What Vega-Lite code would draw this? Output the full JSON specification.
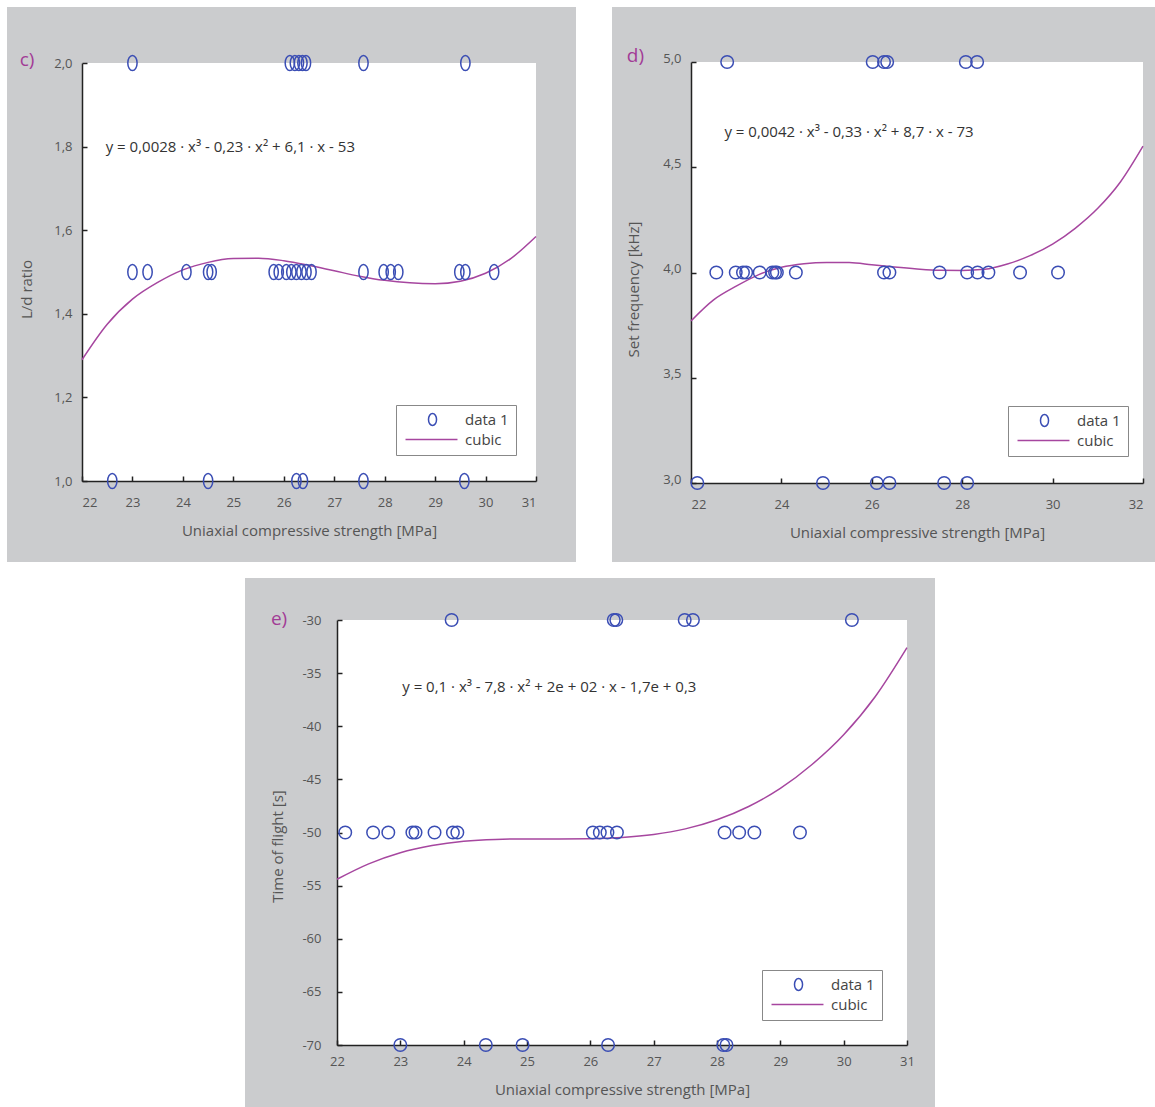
{
  "$schema": "https://vega.github.io/schema/vega-lite/v6.json",
  "background": "#cbccce",
  "padding": 0,
  "spacing": 0,
  "config": {
    "view": {"stroke": null},
    "axis": {"domainColor": "#222", "domainWidth": 1.5, "tickColor": "#222", "tickWidth": 1.5, "tickSize": -5, "grid": false, "labelFont": "Open Sans", "labelFontSize": 13, "labelColor": "#555", "titleFont": "Open Sans", "titleFontSize": 15, "titleFontWeight": "normal", "titleColor": "#555"},
    "title": {"anchor": "start", "frame": "bounds", "color": "#a23c96", "fontSize": 19, "fontWeight": "normal", "font": "Open Sans"},
    "legend": {"title": null, "orient": "none", "symbolSize": 144, "symbolStrokeWidth": 1.5, "labelFont": "Open Sans", "labelFontSize": 15, "labelColor": "#444", "labelOffset": 47, "rowPadding": 3, "padding": 7, "strokeColor": "#888", "fillColor": "white"}
  },
  "datasets": {
    "c_pts": [
      {"x": 23.0, "y": 2.0, "series": "data 1"}, {"x": 26.12, "y": 2.0, "series": "data 1"}, {"x": 26.22, "y": 2.0, "series": "data 1"}, {"x": 26.3, "y": 2.0, "series": "data 1"}, {"x": 26.37, "y": 2.0, "series": "data 1"}, {"x": 26.44, "y": 2.0, "series": "data 1"}, {"x": 27.58, "y": 2.0, "series": "data 1"}, {"x": 29.6, "y": 2.0, "series": "data 1"},
      {"x": 23.0, "y": 1.5, "series": "data 1"}, {"x": 23.3, "y": 1.5, "series": "data 1"}, {"x": 24.07, "y": 1.5, "series": "data 1"}, {"x": 24.5, "y": 1.5, "series": "data 1"}, {"x": 24.57, "y": 1.5, "series": "data 1"}, {"x": 25.8, "y": 1.5, "series": "data 1"}, {"x": 25.9, "y": 1.5, "series": "data 1"}, {"x": 26.05, "y": 1.5, "series": "data 1"}, {"x": 26.15, "y": 1.5, "series": "data 1"}, {"x": 26.25, "y": 1.5, "series": "data 1"}, {"x": 26.35, "y": 1.5, "series": "data 1"}, {"x": 26.45, "y": 1.5, "series": "data 1"}, {"x": 26.55, "y": 1.5, "series": "data 1"}, {"x": 27.58, "y": 1.5, "series": "data 1"}, {"x": 27.98, "y": 1.5, "series": "data 1"}, {"x": 28.12, "y": 1.5, "series": "data 1"}, {"x": 28.27, "y": 1.5, "series": "data 1"}, {"x": 29.48, "y": 1.5, "series": "data 1"}, {"x": 29.6, "y": 1.5, "series": "data 1"}, {"x": 30.17, "y": 1.5, "series": "data 1"},
      {"x": 22.6, "y": 1.0, "series": "data 1"}, {"x": 24.5, "y": 1.0, "series": "data 1"}, {"x": 26.25, "y": 1.0, "series": "data 1"}, {"x": 26.38, "y": 1.0, "series": "data 1"}, {"x": 27.58, "y": 1.0, "series": "data 1"}, {"x": 29.58, "y": 1.0, "series": "data 1"}
    ],
    "c_fit": [
      {"x": 22.0, "y": 1.29, "series": "cubic"}, {"x": 22.5, "y": 1.375, "series": "cubic"}, {"x": 23.0, "y": 1.435, "series": "cubic"}, {"x": 23.5, "y": 1.475, "series": "cubic"}, {"x": 24.0, "y": 1.505, "series": "cubic"}, {"x": 24.5, "y": 1.523, "series": "cubic"}, {"x": 25.0, "y": 1.532, "series": "cubic"}, {"x": 25.5, "y": 1.533, "series": "cubic"}, {"x": 26.0, "y": 1.527, "series": "cubic"}, {"x": 26.5, "y": 1.516, "series": "cubic"}, {"x": 27.0, "y": 1.503, "series": "cubic"}, {"x": 27.5, "y": 1.49, "series": "cubic"}, {"x": 28.0, "y": 1.48, "series": "cubic"}, {"x": 28.5, "y": 1.474, "series": "cubic"}, {"x": 29.0, "y": 1.472, "series": "cubic"}, {"x": 29.5, "y": 1.478, "series": "cubic"}, {"x": 30.0, "y": 1.497, "series": "cubic"}, {"x": 30.5, "y": 1.532, "series": "cubic"}, {"x": 31.0, "y": 1.585, "series": "cubic"}
    ],
    "d_pts": [
      {"x": 22.8, "y": 5.0, "series": "data 1"}, {"x": 26.02, "y": 5.0, "series": "data 1"}, {"x": 26.27, "y": 5.0, "series": "data 1"}, {"x": 26.34, "y": 5.0, "series": "data 1"}, {"x": 28.08, "y": 5.0, "series": "data 1"}, {"x": 28.33, "y": 5.0, "series": "data 1"},
      {"x": 22.56, "y": 4.0, "series": "data 1"}, {"x": 22.99, "y": 4.0, "series": "data 1"}, {"x": 23.15, "y": 4.0, "series": "data 1"}, {"x": 23.22, "y": 4.0, "series": "data 1"}, {"x": 23.52, "y": 4.0, "series": "data 1"}, {"x": 23.8, "y": 4.0, "series": "data 1"}, {"x": 23.86, "y": 4.0, "series": "data 1"}, {"x": 23.9, "y": 4.0, "series": "data 1"}, {"x": 24.32, "y": 4.0, "series": "data 1"}, {"x": 26.27, "y": 4.0, "series": "data 1"}, {"x": 26.39, "y": 4.0, "series": "data 1"}, {"x": 27.5, "y": 4.0, "series": "data 1"}, {"x": 28.11, "y": 4.0, "series": "data 1"}, {"x": 28.34, "y": 4.0, "series": "data 1"}, {"x": 28.58, "y": 4.0, "series": "data 1"}, {"x": 29.28, "y": 4.0, "series": "data 1"}, {"x": 30.12, "y": 4.0, "series": "data 1"},
      {"x": 22.14, "y": 3.0, "series": "data 1"}, {"x": 24.92, "y": 3.0, "series": "data 1"}, {"x": 26.11, "y": 3.0, "series": "data 1"}, {"x": 26.39, "y": 3.0, "series": "data 1"}, {"x": 27.6, "y": 3.0, "series": "data 1"}, {"x": 28.11, "y": 3.0, "series": "data 1"}
    ],
    "d_fit": [
      {"x": 22.0, "y": 3.77, "series": "cubic"}, {"x": 22.5, "y": 3.87, "series": "cubic"}, {"x": 23.0, "y": 3.935, "series": "cubic"}, {"x": 23.5, "y": 3.99, "series": "cubic"}, {"x": 24.0, "y": 4.025, "series": "cubic"}, {"x": 24.5, "y": 4.042, "series": "cubic"}, {"x": 25.0, "y": 4.048, "series": "cubic"}, {"x": 25.5, "y": 4.047, "series": "cubic"}, {"x": 26.0, "y": 4.037, "series": "cubic"}, {"x": 26.5, "y": 4.026, "series": "cubic"}, {"x": 27.0, "y": 4.017, "series": "cubic"}, {"x": 27.5, "y": 4.011, "series": "cubic"}, {"x": 28.0, "y": 4.01, "series": "cubic"}, {"x": 28.5, "y": 4.015, "series": "cubic"}, {"x": 29.0, "y": 4.04, "series": "cubic"}, {"x": 29.5, "y": 4.08, "series": "cubic"}, {"x": 30.0, "y": 4.135, "series": "cubic"}, {"x": 30.5, "y": 4.21, "series": "cubic"}, {"x": 31.0, "y": 4.305, "series": "cubic"}, {"x": 31.5, "y": 4.43, "series": "cubic"}, {"x": 32.0, "y": 4.6, "series": "cubic"}
    ],
    "e_pts": [
      {"x": 23.81, "y": -30, "series": "data 1"}, {"x": 26.37, "y": -30, "series": "data 1"}, {"x": 26.41, "y": -30, "series": "data 1"}, {"x": 27.49, "y": -30, "series": "data 1"}, {"x": 27.62, "y": -30, "series": "data 1"}, {"x": 30.13, "y": -30, "series": "data 1"},
      {"x": 22.13, "y": -50, "series": "data 1"}, {"x": 22.57, "y": -50, "series": "data 1"}, {"x": 22.81, "y": -50, "series": "data 1"}, {"x": 23.19, "y": -50, "series": "data 1"}, {"x": 23.24, "y": -50, "series": "data 1"}, {"x": 23.54, "y": -50, "series": "data 1"}, {"x": 23.83, "y": -50, "series": "data 1"}, {"x": 23.9, "y": -50, "series": "data 1"}, {"x": 26.04, "y": -50, "series": "data 1"}, {"x": 26.15, "y": -50, "series": "data 1"}, {"x": 26.27, "y": -50, "series": "data 1"}, {"x": 26.42, "y": -50, "series": "data 1"}, {"x": 28.12, "y": -50, "series": "data 1"}, {"x": 28.35, "y": -50, "series": "data 1"}, {"x": 28.59, "y": -50, "series": "data 1"}, {"x": 29.31, "y": -50, "series": "data 1"},
      {"x": 23.0, "y": -70, "series": "data 1"}, {"x": 24.35, "y": -70, "series": "data 1"}, {"x": 24.93, "y": -70, "series": "data 1"}, {"x": 26.28, "y": -70, "series": "data 1"}, {"x": 28.1, "y": -70, "series": "data 1"}, {"x": 28.15, "y": -70, "series": "data 1"}
    ],
    "e_fit": [
      {"x": 22.0, "y": -54.4, "series": "cubic"}, {"x": 22.5, "y": -52.95, "series": "cubic"}, {"x": 23.0, "y": -51.9, "series": "cubic"}, {"x": 23.5, "y": -51.23, "series": "cubic"}, {"x": 24.0, "y": -50.83, "series": "cubic"}, {"x": 24.5, "y": -50.65, "series": "cubic"}, {"x": 25.0, "y": -50.6, "series": "cubic"}, {"x": 25.5, "y": -50.6, "series": "cubic"}, {"x": 26.0, "y": -50.58, "series": "cubic"}, {"x": 26.5, "y": -50.47, "series": "cubic"}, {"x": 27.0, "y": -50.19, "series": "cubic"}, {"x": 27.5, "y": -49.66, "series": "cubic"}, {"x": 28.0, "y": -48.8, "series": "cubic"}, {"x": 28.5, "y": -47.55, "series": "cubic"}, {"x": 29.0, "y": -45.85, "series": "cubic"}, {"x": 29.5, "y": -43.6, "series": "cubic"}, {"x": 30.0, "y": -40.8, "series": "cubic"}, {"x": 30.5, "y": -37.2, "series": "cubic"}, {"x": 31.0, "y": -32.6, "series": "cubic"}
    ],
    "c_eq": [{"x": 22.47, "y": 1.8, "label": "y = 0,0028 · x³ - 0,23 · x² + 6,1 · x - 53"}],
    "d_eq": [{"x": 22.74, "y": 4.667, "label": "y = 0,0042 · x³ - 0,33 · x² + 8,7 · x - 73"}],
    "e_eq": [{"x": 23.03, "y": -36.28, "label": "y = 0,1 · x³ - 7,8 · x² + 2e + 02 · x - 1,7e + 0,3"}]
  },
  "resolve": {"scale": {"color": "independent"}, "legend": {"color": "independent"}},
  "vconcat": [
    {"width": 1155, "height": 7, "data": {"values": [{}]}, "mark": {"type": "point", "opacity": 0}, "view": {"fill": "white", "stroke": null}},
    {
      "spacing": 0,
      "resolve": {"scale": {"color": "independent"}, "legend": {"color": "independent"}},
      "hconcat": [
        {"width": 7, "height": 555, "data": {"values": [{}]}, "mark": {"type": "point", "opacity": 0}, "view": {"fill": "white", "stroke": null}},
        {
          "spacing": 0,
          "resolve": {"scale": {"color": "independent"}, "legend": {"color": "independent"}},
          "vconcat": [
            {"width": 568, "height": 43, "data": {"values": [{}]}, "mark": {"type": "point", "opacity": 0}, "view": {"fill": null, "stroke": null}},
            {
              "spacing": 0,
              "resolve": {"scale": {"color": "independent"}, "legend": {"color": "independent"}},
              "hconcat": [
                {"width": 12, "height": 1, "data": {"values": [{}]}, "mark": {"type": "point", "opacity": 0}, "view": {"fill": null, "stroke": null}},
                {
                  "width": 454, "height": 418,
                  "view": {"fill": "white", "stroke": null},
                  "title": {"text": "c)", "offset": -17},
                  "encoding": {
                    "x": {"field": "x", "type": "quantitative", "scale": {"domain": [22, 31], "nice": false, "zero": false}, "axis": {"title": "Uniaxial compressive strength [MPa]", "values": [22, 23, 24, 25, 26, 27, 28, 29, 30, 31], "format": "d", "labelFlush": true, "labelPadding": 20, "titlePadding": 14}},
                    "y": {"field": "y", "type": "quantitative", "scale": {"domain": [1, 2], "nice": false, "zero": false}, "axis": {"title": "L/d ratio", "titleY": 226, "values": [1, 1.2, 1.4, 1.6, 1.8, 2], "labelExpr": "replace(format(datum.value, '.1f'), '.', ',')", "labelFlush": false, "labelPadding": 15, "titlePadding": 19}},
                    "color": {"field": "series", "type": "nominal", "scale": {"domain": ["data 1", "cubic"], "range": ["#3a4db4", "#a6469f"]}, "legend": {"legendX": 314, "legendY": 342, "encode": {"symbols": {"update": {"shape": {"signal": "datum.value === 'cubic' ? 'M-0.83,0H7.83' : 'M3.67,-1A0.67,1 0 1,1 3.67,1A0.67,1 0 1,1 3.67,-1Z'"}, "fill": {"value": "transparent"}}}}}}
                  },
                  "layer": [
                    {"data": {"name": "c_fit"}, "mark": {"type": "line", "strokeWidth": 1.5, "interpolate": "monotone"}},
                    {"data": {"name": "c_pts"}, "mark": {"type": "point", "shape": "M0,-1A0.62,1 0 1,1 0,1A0.62,1 0 1,1 0,-1Z", "size": 225, "filled": false, "strokeWidth": 1.5, "opacity": 1}},
                    {"data": {"name": "c_eq"}, "mark": {"type": "text", "align": "left", "baseline": "middle", "fontSize": 15, "font": "Open Sans"}, "encoding": {"text": {"field": "label"}, "color": {"value": "#333"}}}
                  ]
                },
                {"width": 37, "height": 1, "data": {"values": [{}]}, "mark": {"type": "point", "opacity": 0}, "view": {"fill": null, "stroke": null}}
              ]
            },
            {"width": 568, "height": 8, "data": {"values": [{}]}, "mark": {"type": "point", "opacity": 0}, "view": {"fill": null, "stroke": null}}
          ]
        },
        {"width": 36, "height": 555, "data": {"values": [{}]}, "mark": {"type": "point", "opacity": 0}, "view": {"fill": "white", "stroke": null}},
        {
          "spacing": 0,
          "resolve": {"scale": {"color": "independent"}, "legend": {"color": "independent"}},
          "vconcat": [
            {"width": 544, "height": 40, "data": {"values": [{}]}, "mark": {"type": "point", "opacity": 0}, "view": {"fill": null, "stroke": null}},
            {
              "spacing": 0,
              "resolve": {"scale": {"color": "independent"}, "legend": {"color": "independent"}},
              "hconcat": [
                {"width": 14, "height": 1, "data": {"values": [{}]}, "mark": {"type": "point", "opacity": 0}, "view": {"fill": null, "stroke": null}},
                {
                  "width": 452, "height": 421,
                  "view": {"fill": "white", "stroke": null},
                  "title": {"text": "d)", "offset": -14},
                  "encoding": {
                    "x": {"field": "x", "type": "quantitative", "scale": {"domain": [22, 32], "nice": false, "zero": false}, "axis": {"title": "Uniaxial compressive strength [MPa]", "values": [22, 24, 26, 28, 30, 32], "format": "d", "labelFlush": true, "labelPadding": 20, "titlePadding": 14}},
                    "y": {"field": "y", "type": "quantitative", "scale": {"domain": [3, 5], "nice": false, "zero": false}, "axis": {"title": "Set frequency [kHz]", "titleY": 227, "values": [3, 3.5, 4, 4.5, 5], "labelExpr": "replace(format(datum.value, '.1f'), '.', ',')", "labelFlush": false, "labelOffset": -4, "labelPadding": 15, "titlePadding": 21}},
                    "color": {"field": "series", "type": "nominal", "scale": {"domain": ["data 1", "cubic"], "range": ["#3a4db4", "#a6469f"]}, "legend": {"legendX": 317, "legendY": 344, "encode": {"symbols": {"update": {"shape": {"signal": "datum.value === 'cubic' ? 'M-0.83,0H7.83' : 'M3.67,-1A0.67,1 0 1,1 3.67,1A0.67,1 0 1,1 3.67,-1Z'"}, "fill": {"value": "transparent"}}}}}}
                  },
                  "layer": [
                    {"data": {"name": "d_fit"}, "mark": {"type": "line", "strokeWidth": 1.5, "interpolate": "monotone"}},
                    {"data": {"name": "d_pts"}, "mark": {"type": "point", "shape": "circle", "size": 156, "filled": false, "strokeWidth": 1.5, "opacity": 1}},
                    {"data": {"name": "d_eq"}, "mark": {"type": "text", "align": "left", "baseline": "middle", "fontSize": 15, "font": "Open Sans"}, "encoding": {"text": {"field": "label"}, "color": {"value": "#333"}}}
                  ]
                },
                {"width": 17, "height": 1, "data": {"values": [{}]}, "mark": {"type": "point", "opacity": 0}, "view": {"fill": null, "stroke": null}}
              ]
            },
            {"width": 544, "height": 6, "data": {"values": [{}]}, "mark": {"type": "point", "opacity": 0}, "view": {"fill": null, "stroke": null}}
          ]
        }
      ]
    },
    {"width": 1155, "height": 16, "data": {"values": [{}]}, "mark": {"type": "point", "opacity": 0}, "view": {"fill": "white", "stroke": null}},
    {
      "spacing": 0,
      "resolve": {"scale": {"color": "independent"}, "legend": {"color": "independent"}},
      "hconcat": [
        {"width": 245, "height": 529, "data": {"values": [{}]}, "mark": {"type": "point", "opacity": 0}, "view": {"fill": "white", "stroke": null}},
        {
          "spacing": 0,
          "resolve": {"scale": {"color": "independent"}, "legend": {"color": "independent"}},
          "vconcat": [
            {"width": 690, "height": 31, "data": {"values": [{}]}, "mark": {"type": "point", "opacity": 0}, "view": {"fill": null, "stroke": null}},
            {
              "spacing": 0,
              "resolve": {"scale": {"color": "independent"}, "legend": {"color": "independent"}},
              "hconcat": [
                {"width": 25, "height": 1, "data": {"values": [{}]}, "mark": {"type": "point", "opacity": 0}, "view": {"fill": null, "stroke": null}},
                {
                  "width": 570, "height": 425,
                  "view": {"fill": "white", "stroke": null},
                  "title": {"text": "e)", "offset": -18},
                  "encoding": {
                    "x": {"field": "x", "type": "quantitative", "scale": {"domain": [22, 31], "nice": false, "zero": false}, "axis": {"title": "Uniaxial compressive strength [MPa]", "values": [22, 23, 24, 25, 26, 27, 28, 29, 30, 31], "format": "d", "labelFlush": false, "labelPadding": 15, "titlePadding": 14}},
                    "y": {"field": "y", "type": "quantitative", "scale": {"domain": [-70, -30], "nice": false, "zero": false}, "axis": {"title": "Time of flight [s]", "titleY": 226, "values": [-70, -65, -60, -55, -50, -45, -40, -35, -30], "labelExpr": "'' + datum.value", "labelFlush": false, "labelPadding": 21, "titlePadding": 16}},
                    "color": {"field": "series", "type": "nominal", "scale": {"domain": ["data 1", "cubic"], "range": ["#3a4db4", "#a6469f"]}, "legend": {"legendX": 425, "legendY": 350, "encode": {"symbols": {"update": {"shape": {"signal": "datum.value === 'cubic' ? 'M-0.83,0H7.83' : 'M3.67,-1A0.67,1 0 1,1 3.67,1A0.67,1 0 1,1 3.67,-1Z'"}, "fill": {"value": "transparent"}}}}}}
                  },
                  "layer": [
                    {"data": {"name": "e_fit"}, "mark": {"type": "line", "strokeWidth": 1.5, "interpolate": "monotone"}},
                    {"data": {"name": "e_pts"}, "mark": {"type": "point", "shape": "circle", "size": 156, "filled": false, "strokeWidth": 1.5, "opacity": 1}},
                    {"data": {"name": "e_eq"}, "mark": {"type": "text", "align": "left", "baseline": "middle", "fontSize": 15, "font": "Open Sans"}, "encoding": {"text": {"field": "label"}, "color": {"value": "#333"}}}
                  ]
                },
                {"width": 15, "height": 1, "data": {"values": [{}]}, "mark": {"type": "point", "opacity": 0}, "view": {"fill": null, "stroke": null}}
              ]
            },
            {"width": 690, "height": 3, "data": {"values": [{}]}, "mark": {"type": "point", "opacity": 0}, "view": {"fill": null, "stroke": null}}
          ]
        },
        {"width": 220, "height": 529, "data": {"values": [{}]}, "mark": {"type": "point", "opacity": 0}, "view": {"fill": "white", "stroke": null}}
      ]
    }
  ]
}
